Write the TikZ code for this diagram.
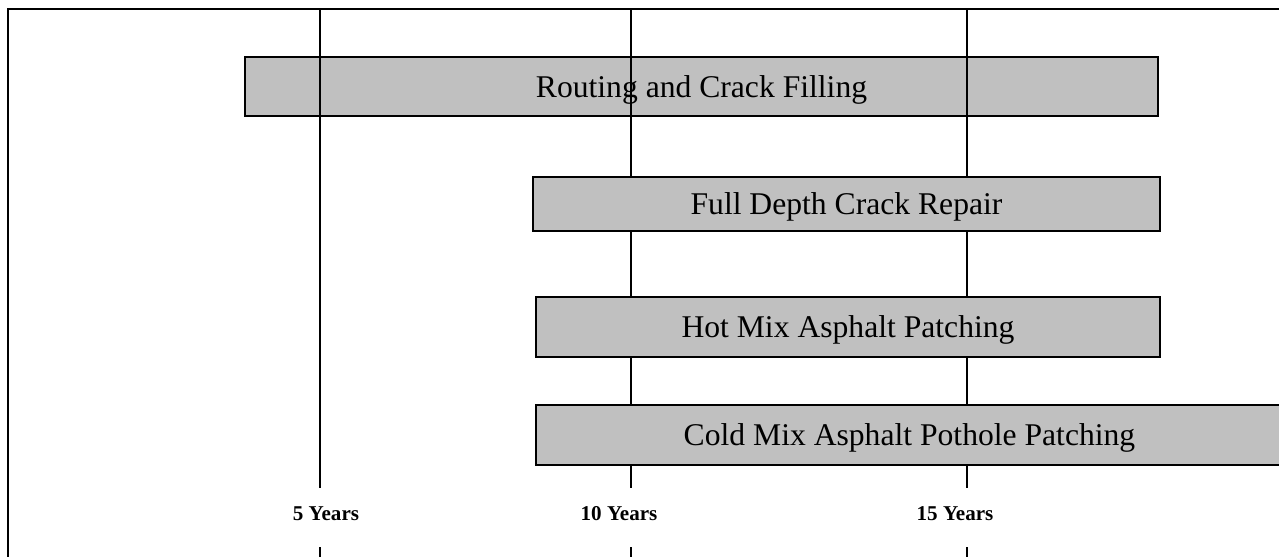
\documentclass[tikz,border=0pt]{standalone}
\usepackage{fontspec}
\setmainfont{Liberation Serif}
\usepackage{xcolor}
\usepackage{tikz}
\definecolor{barfill}{HTML}{C0C0C0}

\begin{document}
\begin{tikzpicture}[x=0.02cm, y=-0.02cm,
  taskbox/.style={draw, fill=barfill, line width=0.9pt, inner sep=0pt, outer sep=0pt,
    text height=14.5pt, text depth=2pt, font=\fontsize{18}{20}\selectfont},
  yearline/.style={line width=1.1pt},
  yearlabel/.style={font=\bfseries\fontsize{12}{14}\selectfont, inner sep=0pt}]
\path[use as bounding box, clip] (0,0) rectangle (1279,556);
\draw[line width=1.1pt] (8,9) rectangle (1300,600);

\node[taskbox, minimum width=18.26cm, minimum height=1.18cm] (routing) at (701.5,86.5) {Routing and Crack Filling};

\foreach \name/\x in {five/320, ten/631, fifteen/967} {
  \coordinate (\name top) at (\x,9);
  \coordinate (\name gapa) at (\x,488);
  \coordinate (\name gapb) at (\x,547);
  \coordinate (\name bot) at (\x,570);
  \draw[yearline] (\name top) -- (\name gapa);
  \draw[yearline] (\name gapb) -- (\name bot);
}

\node[taskbox, minimum width=12.54cm, minimum height=1.08cm] (fulldepth) at (846.5,204) {Full Depth Crack Repair};
\node[taskbox, minimum width=12.48cm, minimum height=1.2cm] (hotmix) at (848,327) {Hot Mix Asphalt Patching};
\node[taskbox, minimum width=14.94cm, minimum height=1.2cm] (coldmix) at (909.5,435) {Cold Mix Asphalt Pothole Patching};

\node[yearlabel] (lab5) at (326,514) {5 Years};
\node[yearlabel] (lab10) at (619,514) {10 Years};
\node[yearlabel] (lab15) at (955,514) {15 Years};
\end{tikzpicture}
\end{document}
